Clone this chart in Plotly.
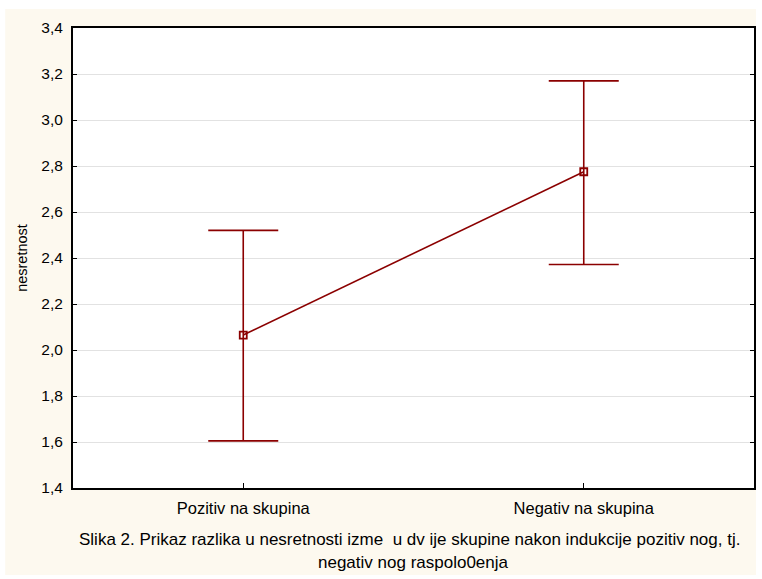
import plotly.graph_objects as go

# Group means with upper/lower confidence limits
groups = ["Pozitiv na skupina", "Negativ na skupina"]
means = [2.065, 2.775]
upper = [2.520, 3.170]
lower = [1.605, 2.372]

y_ticks = [1.4, 1.6, 1.8, 2.0, 2.2, 2.4, 2.6, 2.8, 3.0, 3.2, 3.4]
y_tick_text = [f"{v:.1f}".replace(".", ",") for v in y_ticks]

y_title = "nesretnost"
caption_lines = [
    "Slika 2. Prikaz razlika u nesretnosti izme&nbsp;&nbsp;u dv ije skupine nakon indukcije pozitiv nog, tj.",
    "negativ nog raspolo0enja",
]

RED = "#8B0000"
CREAM = "#FDF9EF"

W, H = 762, 579
ML, MR, MT, MB = 73, 6, 28, 91
PW, PH = W - ML - MR, H - MT - MB


def px_x(x):
    return (x - ML) / PW


def px_y(y):
    return (H - MB - y) / PH


x_pos = list(range(len(groups)))
err_plus = [u - m for u, m in zip(upper, means)]
err_minus = [m - l for m, l in zip(means, lower)]

fig = go.Figure()
fig.add_trace(go.Scatter(
    x=x_pos, y=means, mode="lines+markers",
    line=dict(color=RED, width=1.6),
    marker=dict(symbol="square-open", size=7, color=RED, line=dict(width=1.8)),
    error_y=dict(type="data", symmetric=False, array=err_plus, arrayminus=err_minus,
                 color=RED, thickness=1.6, width=35),
    showlegend=False,
    hoverinfo="skip",
))

fig.update_layout(
    width=W, height=H,
    margin=dict(l=ML, r=MR, t=MT, b=MB, pad=0),
    paper_bgcolor="white",
    plot_bgcolor="white",
    font=dict(family="Liberation Sans, Arial, sans-serif", color="black", size=15),
    xaxis=dict(
        range=[-0.5, 1.5], tickmode="array", tickvals=x_pos, ticktext=groups,
        showgrid=False, zeroline=False,
        showline=True, linecolor="black", linewidth=2, mirror=True,
        ticks="inside", ticklen=5, tickcolor="black", tickwidth=1,
        tickfont=dict(size=16.5), ticklabelstandoff=4, fixedrange=True,
    ),
    yaxis=dict(
        range=[1.4, 3.4], tickmode="array", tickvals=y_ticks, ticktext=y_tick_text,
        showgrid=True, gridcolor="#E2E2E2", gridwidth=1, zeroline=False,
        showline=True, linecolor="black", linewidth=2, mirror="ticks",
        ticks="inside", ticklen=4, tickcolor="black", tickwidth=1,
        tickfont=dict(size=15.5), ticklabelstandoff=5,
        title=dict(text=y_title, font=dict(size=14.5), standoff=10),
        fixedrange=True,
    ),
    shapes=[
        dict(type="rect", xref="paper", yref="paper", layer="below",
             x0=px_x(5), x1=px_x(758), y0=px_y(575), y1=px_y(9),
             fillcolor=CREAM, line=dict(width=0)),
        dict(type="rect", xref="paper", yref="paper", layer="below",
             x0=0, x1=1, y0=0, y1=1, fillcolor="white", line=dict(width=0)),
    ],
    annotations=[
        dict(text=caption_lines[0], xref="paper", yref="paper",
             x=px_x(410), y=px_y(539), xanchor="center", yanchor="middle",
             showarrow=False, font=dict(size=17)),
        dict(text=caption_lines[1], xref="paper", yref="paper",
             x=px_x(415), y=px_y(562), xanchor="center", yanchor="middle",
             showarrow=False, font=dict(size=17)),
    ],
)

fig.write_html("out.html")
